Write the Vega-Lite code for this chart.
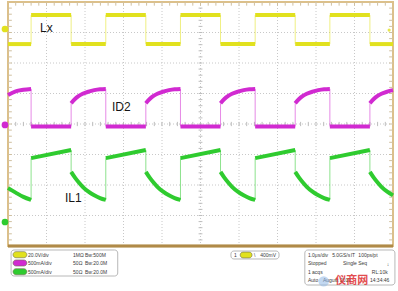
{
  "$schema": "https://vega.github.io/schema/vega-lite/v6.json",
  "width": 385,
  "height": 244,
  "autosize": {"type": "none"},
  "padding": {"left": 8, "top": 2, "right": 5, "bottom": 45},
  "background": "white",
  "config": {"view": {"stroke": "#dcc08a", "strokeWidth": 2}},
  "datasets": {
    "gridt": [{"t":1},{"t":2},{"t":3},{"t":4},{"t":5},{"t":6},{"t":7},{"t":8},{"t":9}],
    "gridv": [{"v":-3},{"v":-2},{"v":-1},{"v":0},{"v":1},{"v":2},{"v":3}],
    "tickt": [{"t":0.2},{"t":0.4},{"t":0.6},{"t":0.8},{"t":1},{"t":1.2},{"t":1.4},{"t":1.6},{"t":1.8},{"t":2},{"t":2.2},{"t":2.4},{"t":2.6},{"t":2.8},{"t":3},{"t":3.2},{"t":3.4},{"t":3.6},{"t":3.8},{"t":4},{"t":4.2},{"t":4.4},{"t":4.6},{"t":4.8},{"t":5},{"t":5.2},{"t":5.4},{"t":5.6},{"t":5.8},{"t":6},{"t":6.2},{"t":6.4},{"t":6.6},{"t":6.8},{"t":7},{"t":7.2},{"t":7.4},{"t":7.6},{"t":7.8},{"t":8},{"t":8.2},{"t":8.4},{"t":8.6},{"t":8.8},{"t":9},{"t":9.2},{"t":9.4},{"t":9.6},{"t":9.8}],
    "tickv": [{"v":-3.8},{"v":-3.6},{"v":-3.4},{"v":-3.2},{"v":-3},{"v":-2.8},{"v":-2.6},{"v":-2.4},{"v":-2.2},{"v":-2},{"v":-1.8},{"v":-1.6},{"v":-1.4},{"v":-1.2},{"v":-1},{"v":-0.8},{"v":-0.6},{"v":-0.4},{"v":-0.2},{"v":0},{"v":0.2},{"v":0.4},{"v":0.6},{"v":0.8},{"v":1},{"v":1.2},{"v":1.4},{"v":1.6},{"v":1.8},{"v":2},{"v":2.2},{"v":2.4},{"v":2.6},{"v":2.8},{"v":3},{"v":3.2},{"v":3.4},{"v":3.6},{"v":3.8}],
    "traces": [
      {"ch":"Lx","seg":"y0","t":0,"v":2.62},{"ch":"Lx","seg":"y0","t":0.6,"v":2.62},
      {"ch":"Lx","seg":"y1","t":0.6,"v":3.57},{"ch":"Lx","seg":"y1","t":1.64,"v":3.57},
      {"ch":"Lx","seg":"y2","t":1.64,"v":2.62},{"ch":"Lx","seg":"y2","t":2.54,"v":2.62},
      {"ch":"Lx","seg":"y3","t":2.54,"v":3.57},{"ch":"Lx","seg":"y3","t":3.58,"v":3.57},
      {"ch":"Lx","seg":"y4","t":3.58,"v":2.62},{"ch":"Lx","seg":"y4","t":4.48,"v":2.62},
      {"ch":"Lx","seg":"y5","t":4.48,"v":3.57},{"ch":"Lx","seg":"y5","t":5.52,"v":3.57},
      {"ch":"Lx","seg":"y6","t":5.52,"v":2.62},{"ch":"Lx","seg":"y6","t":6.42,"v":2.62},
      {"ch":"Lx","seg":"y7","t":6.42,"v":3.57},{"ch":"Lx","seg":"y7","t":7.46,"v":3.57},
      {"ch":"Lx","seg":"y8","t":7.46,"v":2.62},{"ch":"Lx","seg":"y8","t":8.36,"v":2.62},
      {"ch":"Lx","seg":"y9","t":8.36,"v":3.57},{"ch":"Lx","seg":"y9","t":9.4,"v":3.57},
      {"ch":"Lx","seg":"y10","t":9.4,"v":2.62},{"ch":"Lx","seg":"y10","t":10,"v":2.62},

      {"ch":"ID2","seg":"m0","t":0,"v":0.95},{"ch":"ID2","seg":"m0","t":0.2,"v":1.07},{"ch":"ID2","seg":"m0","t":0.4,"v":1.12},{"ch":"ID2","seg":"m0","t":0.6,"v":1.15},
      {"ch":"ID2","seg":"m1","t":0.6,"v":-0.08},{"ch":"ID2","seg":"m1","t":1.64,"v":-0.08},
      {"ch":"ID2","seg":"m2","t":1.64,"v":0.68},{"ch":"ID2","seg":"m2","t":1.74,"v":0.82},{"ch":"ID2","seg":"m2","t":1.84,"v":0.92},{"ch":"ID2","seg":"m2","t":1.94,"v":0.99},{"ch":"ID2","seg":"m2","t":2.09,"v":1.06},{"ch":"ID2","seg":"m2","t":2.24,"v":1.11},{"ch":"ID2","seg":"m2","t":2.39,"v":1.14},{"ch":"ID2","seg":"m2","t":2.54,"v":1.15},
      {"ch":"ID2","seg":"m3","t":2.54,"v":-0.08},{"ch":"ID2","seg":"m3","t":3.58,"v":-0.08},
      {"ch":"ID2","seg":"m4","t":3.58,"v":0.68},{"ch":"ID2","seg":"m4","t":3.68,"v":0.82},{"ch":"ID2","seg":"m4","t":3.78,"v":0.92},{"ch":"ID2","seg":"m4","t":3.88,"v":0.99},{"ch":"ID2","seg":"m4","t":4.03,"v":1.06},{"ch":"ID2","seg":"m4","t":4.18,"v":1.11},{"ch":"ID2","seg":"m4","t":4.33,"v":1.14},{"ch":"ID2","seg":"m4","t":4.48,"v":1.15},
      {"ch":"ID2","seg":"m5","t":4.48,"v":-0.08},{"ch":"ID2","seg":"m5","t":5.52,"v":-0.08},
      {"ch":"ID2","seg":"m6","t":5.52,"v":0.68},{"ch":"ID2","seg":"m6","t":5.62,"v":0.82},{"ch":"ID2","seg":"m6","t":5.72,"v":0.92},{"ch":"ID2","seg":"m6","t":5.82,"v":0.99},{"ch":"ID2","seg":"m6","t":5.97,"v":1.06},{"ch":"ID2","seg":"m6","t":6.12,"v":1.11},{"ch":"ID2","seg":"m6","t":6.27,"v":1.14},{"ch":"ID2","seg":"m6","t":6.42,"v":1.15},
      {"ch":"ID2","seg":"m7","t":6.42,"v":-0.08},{"ch":"ID2","seg":"m7","t":7.46,"v":-0.08},
      {"ch":"ID2","seg":"m8","t":7.46,"v":0.68},{"ch":"ID2","seg":"m8","t":7.56,"v":0.82},{"ch":"ID2","seg":"m8","t":7.66,"v":0.92},{"ch":"ID2","seg":"m8","t":7.76,"v":0.99},{"ch":"ID2","seg":"m8","t":7.91,"v":1.06},{"ch":"ID2","seg":"m8","t":8.06,"v":1.11},{"ch":"ID2","seg":"m8","t":8.21,"v":1.14},{"ch":"ID2","seg":"m8","t":8.36,"v":1.15},
      {"ch":"ID2","seg":"m9","t":8.36,"v":-0.08},{"ch":"ID2","seg":"m9","t":9.4,"v":-0.08},
      {"ch":"ID2","seg":"m10","t":9.4,"v":0.68},{"ch":"ID2","seg":"m10","t":9.5,"v":0.82},{"ch":"ID2","seg":"m10","t":9.6,"v":0.92},{"ch":"ID2","seg":"m10","t":9.7,"v":0.99},{"ch":"ID2","seg":"m10","t":9.85,"v":1.06},{"ch":"ID2","seg":"m10","t":10,"v":1.11},

      {"ch":"IL1","seg":"g0","t":0,"v":-2.1},{"ch":"IL1","seg":"g0","t":0.2,"v":-2.25},{"ch":"IL1","seg":"g0","t":0.4,"v":-2.39},{"ch":"IL1","seg":"g0","t":0.6,"v":-2.49},
      {"ch":"IL1","seg":"g1","t":0.6,"v":-1.12},{"ch":"IL1","seg":"g1","t":1.64,"v":-0.85},
      {"ch":"IL1","seg":"g2","t":1.64,"v":-1.57},{"ch":"IL1","seg":"g2","t":1.74,"v":-1.76},{"ch":"IL1","seg":"g2","t":1.84,"v":-1.92},{"ch":"IL1","seg":"g2","t":1.94,"v":-2.06},{"ch":"IL1","seg":"g2","t":2.09,"v":-2.22},{"ch":"IL1","seg":"g2","t":2.24,"v":-2.34},{"ch":"IL1","seg":"g2","t":2.39,"v":-2.43},{"ch":"IL1","seg":"g2","t":2.54,"v":-2.49},
      {"ch":"IL1","seg":"g3","t":2.54,"v":-1.12},{"ch":"IL1","seg":"g3","t":3.58,"v":-0.85},
      {"ch":"IL1","seg":"g4","t":3.58,"v":-1.57},{"ch":"IL1","seg":"g4","t":3.68,"v":-1.76},{"ch":"IL1","seg":"g4","t":3.78,"v":-1.92},{"ch":"IL1","seg":"g4","t":3.88,"v":-2.06},{"ch":"IL1","seg":"g4","t":4.03,"v":-2.22},{"ch":"IL1","seg":"g4","t":4.18,"v":-2.34},{"ch":"IL1","seg":"g4","t":4.33,"v":-2.43},{"ch":"IL1","seg":"g4","t":4.48,"v":-2.49},
      {"ch":"IL1","seg":"g5","t":4.48,"v":-1.12},{"ch":"IL1","seg":"g5","t":5.52,"v":-0.85},
      {"ch":"IL1","seg":"g6","t":5.52,"v":-1.57},{"ch":"IL1","seg":"g6","t":5.62,"v":-1.76},{"ch":"IL1","seg":"g6","t":5.72,"v":-1.92},{"ch":"IL1","seg":"g6","t":5.82,"v":-2.06},{"ch":"IL1","seg":"g6","t":5.97,"v":-2.22},{"ch":"IL1","seg":"g6","t":6.12,"v":-2.34},{"ch":"IL1","seg":"g6","t":6.27,"v":-2.43},{"ch":"IL1","seg":"g6","t":6.42,"v":-2.49},
      {"ch":"IL1","seg":"g7","t":6.42,"v":-1.12},{"ch":"IL1","seg":"g7","t":7.46,"v":-0.85},
      {"ch":"IL1","seg":"g8","t":7.46,"v":-1.57},{"ch":"IL1","seg":"g8","t":7.56,"v":-1.76},{"ch":"IL1","seg":"g8","t":7.66,"v":-1.92},{"ch":"IL1","seg":"g8","t":7.76,"v":-2.06},{"ch":"IL1","seg":"g8","t":7.91,"v":-2.22},{"ch":"IL1","seg":"g8","t":8.06,"v":-2.34},{"ch":"IL1","seg":"g8","t":8.21,"v":-2.43},{"ch":"IL1","seg":"g8","t":8.36,"v":-2.49},
      {"ch":"IL1","seg":"g9","t":8.36,"v":-1.12},{"ch":"IL1","seg":"g9","t":9.4,"v":-0.85},
      {"ch":"IL1","seg":"g10","t":9.4,"v":-1.57},{"ch":"IL1","seg":"g10","t":9.5,"v":-1.76},{"ch":"IL1","seg":"g10","t":9.6,"v":-1.92},{"ch":"IL1","seg":"g10","t":9.7,"v":-2.06},{"ch":"IL1","seg":"g10","t":9.85,"v":-2.22},{"ch":"IL1","seg":"g10","t":10,"v":-2.34}
    ],
    "edges": [
      {"ch":"Lx","t":0.6,"v":2.62,"v2":3.57},{"ch":"Lx","t":2.54,"v":2.62,"v2":3.57},{"ch":"Lx","t":4.48,"v":2.62,"v2":3.57},{"ch":"Lx","t":6.42,"v":2.62,"v2":3.57},{"ch":"Lx","t":8.36,"v":2.62,"v2":3.57},
      {"ch":"Lx","t":1.64,"v":3.57,"v2":2.62},{"ch":"Lx","t":3.58,"v":3.57,"v2":2.62},{"ch":"Lx","t":5.52,"v":3.57,"v2":2.62},{"ch":"Lx","t":7.46,"v":3.57,"v2":2.62},{"ch":"Lx","t":9.4,"v":3.57,"v2":2.62},
      {"ch":"ID2","t":0.6,"v":1.15,"v2":-0.08},{"ch":"ID2","t":2.54,"v":1.15,"v2":-0.08},{"ch":"ID2","t":4.48,"v":1.15,"v2":-0.08},{"ch":"ID2","t":6.42,"v":1.15,"v2":-0.08},{"ch":"ID2","t":8.36,"v":1.15,"v2":-0.08},
      {"ch":"ID2","t":1.64,"v":-0.08,"v2":0.68},{"ch":"ID2","t":3.58,"v":-0.08,"v2":0.68},{"ch":"ID2","t":5.52,"v":-0.08,"v2":0.68},{"ch":"ID2","t":7.46,"v":-0.08,"v2":0.68},{"ch":"ID2","t":9.4,"v":-0.08,"v2":0.68},
      {"ch":"IL1","t":0.6,"v":-2.49,"v2":-1.12},{"ch":"IL1","t":2.54,"v":-2.49,"v2":-1.12},{"ch":"IL1","t":4.48,"v":-2.49,"v2":-1.12},{"ch":"IL1","t":6.42,"v":-2.49,"v2":-1.12},{"ch":"IL1","t":8.36,"v":-2.49,"v2":-1.12},
      {"ch":"IL1","t":1.64,"v":-0.85,"v2":-1.57},{"ch":"IL1","t":3.58,"v":-0.85,"v2":-1.57},{"ch":"IL1","t":5.52,"v":-0.85,"v2":-1.57},{"ch":"IL1","t":7.46,"v":-0.85,"v2":-1.57},{"ch":"IL1","t":9.4,"v":-0.85,"v2":-1.57}
    ],
    "markers": [{"ch":"Lx","t":-0.078,"v":3.115},{"ch":"ID2","t":-0.078,"v":-0.03},{"ch":"IL1","t":-0.078,"v":-3.213}],
    "trigger": [{"ch":"Lx","t":9.9,"v":3.08}],
    "labels": [{"label":"Lx","t":0.83,"v":3.15},{"label":"ID2","t":2.7,"v":0.557},{"label":"IL1","t":1.48,"v":-2.426}],
    "boxes": [
      {"t":0.08,"t2":2.85,"v":-4.131,"v2":-4.984},
      {"t":5.79,"t2":7.04,"v":-4.164,"v2":-4.426},
      {"t":7.71,"t2":10.05,"v":-4.131,"v2":-5.279}
    ],
    "pills": [
      {"ch":"Lx","t":0.13,"t2":0.49,"v":-4.185,"v2":-4.385},
      {"ch":"ID2","t":0.13,"t2":0.49,"v":-4.457,"v2":-4.657},
      {"ch":"IL1","t":0.13,"t2":0.49,"v":-4.743,"v2":-4.943},
      {"ch":"Lx","t":6.03,"t2":6.34,"v":-4.2,"v2":-4.39}
    ],
    "ptext": [
      {"txt":"20.0V/div","t":0.52,"v":-4.285},{"txt":"1MΩ","t":1.69,"v":-4.285},{"txt":"Bw:500M","t":2.0,"v":-4.285},
      {"txt":"500mA/div","t":0.52,"v":-4.557},{"txt":"50Ω","t":1.69,"v":-4.557},{"txt":"Bw:20.0M","t":2.0,"v":-4.557},
      {"txt":"500mA/div","t":0.52,"v":-4.843},{"txt":"50Ω","t":1.69,"v":-4.843},{"txt":"Bw:20.0M","t":2.0,"v":-4.843},
      {"txt":"1","t":5.87,"v":-4.295},{"txt":"\\","t":6.39,"v":-4.295},{"txt":"400mV","t":6.55,"v":-4.295},
      {"txt":"1.0μs/div","t":7.79,"v":-4.295},{"txt":"5.0GS/s","t":8.42,"v":-4.295},{"txt":"IT","t":8.9,"v":-4.295},{"txt":"100ps/pt","t":9.1,"v":-4.295},
      {"txt":"Stopped","t":7.79,"v":-4.557},{"txt":"Single Seq","t":8.7,"v":-4.557},{"txt":"↓","t":9.84,"v":-4.6},
      {"txt":"1 acqs","t":7.79,"v":-4.852},{"txt":"RL:10k","t":9.45,"v":-4.852},
      {"txt":"Auto","t":7.79,"v":-5.115},{"txt":"August 2015","t":8.18,"v":-5.115},{"txt":"14:34:46","t":9.4,"v":-5.115}
    ],
    "logo": [{"t":8.2,"v":-5.16}],
    "watermark": [{"txt":"仪商网","t":8.5,"v":-5.16}]
  },
  "layer": [
    {"data":{"name":"gridt"},"mark":{"type":"rule","color":"#c8c8c8","strokeDash":[1,2],"strokeWidth":1},
     "encoding":{"x":{"field":"t","type":"quantitative","scale":{"domain":[0,10],"nice":false,"zero":false},"axis":null}}},
    {"data":{"name":"gridv"},"mark":{"type":"rule","color":"#c8c8c8","strokeDash":[1,2],"strokeWidth":1},
     "encoding":{"y":{"field":"v","type":"quantitative","scale":{"domain":[-4,4],"nice":false,"zero":false},"axis":null}}},
    {"data":{"name":"tickt"},"mark":{"type":"rule","color":"#bdbdbd","strokeWidth":1},
     "encoding":{"x":{"field":"t","type":"quantitative","scale":{"domain":[0,10],"nice":false,"zero":false},"axis":null},
                 "y":{"datum":-0.07,"type":"quantitative","scale":{"domain":[-4,4],"nice":false,"zero":false},"axis":null},
                 "y2":{"datum":0.07}}},
    {"data":{"name":"tickt"},"mark":{"type":"rule","color":"#d0c0a0","strokeWidth":1},
     "encoding":{"x":{"field":"t","type":"quantitative","scale":{"domain":[0,10],"nice":false,"zero":false},"axis":null},
                 "y":{"datum":3.88,"type":"quantitative","scale":{"domain":[-4,4],"nice":false,"zero":false},"axis":null},
                 "y2":{"datum":4}}},
    {"data":{"name":"tickv"},"mark":{"type":"rule","color":"#bdbdbd","strokeWidth":1},
     "encoding":{"y":{"field":"v","type":"quantitative","scale":{"domain":[-4,4],"nice":false,"zero":false},"axis":null},
                 "x":{"datum":4.95,"type":"quantitative","scale":{"domain":[0,10],"nice":false,"zero":false},"axis":null},
                 "x2":{"datum":5.05}}},
    {"data":{"name":"tickv"},"mark":{"type":"rule","color":"#d0c0a0","strokeWidth":1},
     "encoding":{"y":{"field":"v","type":"quantitative","scale":{"domain":[-4,4],"nice":false,"zero":false},"axis":null},
                 "x":{"datum":0,"type":"quantitative","scale":{"domain":[0,10],"nice":false,"zero":false},"axis":null},
                 "x2":{"datum":0.1}}},
    {"data":{"name":"tickv"},"mark":{"type":"rule","color":"#d0c0a0","strokeWidth":1},
     "encoding":{"y":{"field":"v","type":"quantitative","scale":{"domain":[-4,4],"nice":false,"zero":false},"axis":null},
                 "x":{"datum":9.9,"type":"quantitative","scale":{"domain":[0,10],"nice":false,"zero":false},"axis":null},
                 "x2":{"datum":10}}},
    {"data":{"name":"edges"},"mark":{"type":"rule","strokeWidth":1,"opacity":0.55},
     "encoding":{"x":{"field":"t","type":"quantitative","scale":{"domain":[0,10],"nice":false,"zero":false},"axis":null},
                 "y":{"field":"v","type":"quantitative","scale":{"domain":[-4,4],"nice":false,"zero":false},"axis":null},
                 "y2":{"field":"v2"},
                 "color":{"field":"ch","type":"nominal","scale":{"domain":["Lx","ID2","IL1"],"range":["#e1e11e","#d12ad1","#2fcb2f"]},"legend":null}}},
    {"data":{"name":"traces"},"mark":{"type":"line","strokeWidth":4,"interpolate":"monotone","strokeCap":"butt"},
     "encoding":{"x":{"field":"t","type":"quantitative","scale":{"domain":[0,10],"nice":false,"zero":false},"axis":null},
                 "y":{"field":"v","type":"quantitative","scale":{"domain":[-4,4],"nice":false,"zero":false},"axis":null},
                 "detail":{"field":"seg","type":"nominal"},
                 "color":{"field":"ch","type":"nominal","scale":{"domain":["Lx","ID2","IL1"],"range":["#e1e11e","#d12ad1","#2fcb2f"]},"legend":null}}},
    {"data":{"name":"markers"},"mark":{"type":"point","filled":true,"size":45,"opacity":1},
     "encoding":{"x":{"field":"t","type":"quantitative","scale":{"domain":[0,10],"nice":false,"zero":false},"axis":null},
                 "y":{"field":"v","type":"quantitative","scale":{"domain":[-4,4],"nice":false,"zero":false},"axis":null},
                 "color":{"field":"ch","type":"nominal","scale":{"domain":["Lx","ID2","IL1"],"range":["#e1e11e","#d12ad1","#2fcb2f"]},"legend":null}}},
    {"data":{"name":"trigger"},"mark":{"type":"point","filled":true,"size":10,"opacity":0.8},
     "encoding":{"x":{"field":"t","type":"quantitative","scale":{"domain":[0,10],"nice":false,"zero":false},"axis":null},
                 "y":{"field":"v","type":"quantitative","scale":{"domain":[-4,4],"nice":false,"zero":false},"axis":null},
                 "color":{"field":"ch","type":"nominal","scale":{"domain":["Lx","ID2","IL1"],"range":["#e1e11e","#d12ad1","#2fcb2f"]},"legend":null}}},
    {"data":{"name":"labels"},"mark":{"type":"text","align":"left","baseline":"middle","fontSize":12,"font":"Liberation Sans","color":"#151515"},
     "encoding":{"x":{"field":"t","type":"quantitative","scale":{"domain":[0,10],"nice":false,"zero":false},"axis":null},
                 "y":{"field":"v","type":"quantitative","scale":{"domain":[-4,4],"nice":false,"zero":false},"axis":null},
                 "text":{"field":"label"}}},
    {"data":{"name":"boxes"},"mark":{"type":"rule","color":"#b08a48","strokeWidth":2.5},
     "encoding":{"x":{"datum":0,"type":"quantitative","scale":{"domain":[0,10],"nice":false,"zero":false},"axis":null},
                 "x2":{"datum":10},
                 "y":{"datum":-4,"type":"quantitative","scale":{"domain":[-4,4],"nice":false,"zero":false},"axis":null}}},
    {"data":{"name":"boxes"},"mark":{"type":"rect","fill":"white","stroke":"#b8b8b8","strokeWidth":1,"cornerRadius":3},
     "encoding":{"x":{"field":"t","type":"quantitative","scale":{"domain":[0,10],"nice":false,"zero":false},"axis":null},
                 "x2":{"field":"t2"},
                 "y":{"field":"v","type":"quantitative","scale":{"domain":[-4,4],"nice":false,"zero":false},"axis":null},
                 "y2":{"field":"v2"}}},
    {"data":{"name":"pills"},"mark":{"type":"rect","stroke":"#707050","strokeWidth":0.6,"cornerRadius":3},
     "encoding":{"x":{"field":"t","type":"quantitative","scale":{"domain":[0,10],"nice":false,"zero":false},"axis":null},
                 "x2":{"field":"t2"},
                 "y":{"field":"v","type":"quantitative","scale":{"domain":[-4,4],"nice":false,"zero":false},"axis":null},
                 "y2":{"field":"v2"},
                 "color":{"field":"ch","type":"nominal","scale":{"domain":["Lx","ID2","IL1"],"range":["#e1e11e","#d12ad1","#2fcb2f"]},"legend":null}}},
    {"data":{"name":"ptext"},"mark":{"type":"text","align":"left","baseline":"middle","fontSize":5,"font":"Liberation Sans","color":"#3a3a3a"},
     "encoding":{"x":{"field":"t","type":"quantitative","scale":{"domain":[0,10],"nice":false,"zero":false},"axis":null},
                 "y":{"field":"v","type":"quantitative","scale":{"domain":[-4,4],"nice":false,"zero":false},"axis":null},
                 "text":{"field":"txt"}}},
    {"data":{"name":"logo"},"mark":{"type":"point","filled":true,"size":110,"color":"#8fb8e6","opacity":0.55},
     "encoding":{"x":{"field":"t","type":"quantitative","scale":{"domain":[0,10],"nice":false,"zero":false},"axis":null},
                 "y":{"field":"v","type":"quantitative","scale":{"domain":[-4,4],"nice":false,"zero":false},"axis":null}}},
    {"data":{"name":"watermark"},"mark":{"type":"text","align":"left","baseline":"middle","fontSize":11,"fontWeight":"bold","font":"Noto Sans CJK SC","color":"#e0393c","opacity":0.9},
     "encoding":{"x":{"field":"t","type":"quantitative","scale":{"domain":[0,10],"nice":false,"zero":false},"axis":null},
                 "y":{"field":"v","type":"quantitative","scale":{"domain":[-4,4],"nice":false,"zero":false},"axis":null},
                 "text":{"field":"txt"}}}
  ]
}
